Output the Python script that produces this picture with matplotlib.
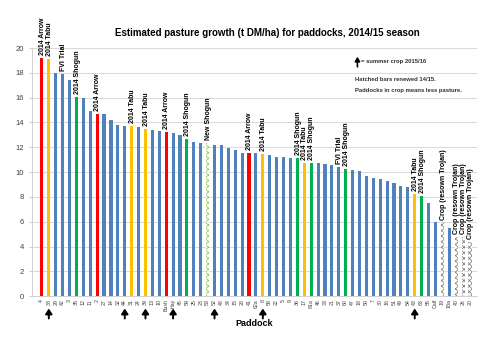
import matplotlib
matplotlib.use("Agg")
import matplotlib.pyplot as plt

plt.rcParams["font.family"] = ["Liberation Sans", "DejaVu Sans"]
plt.rcParams["hatch.linewidth"] = 0.55

paddocks = ["4", "38", "29", "42", "3", "35", "12", "11", "2", "27",
            "14", "32", "44", "31", "24", "39", "13", "10", "Bush", "Hay",
            "45", "59", "25", "23", "53", "52", "48", "34", "15", "28",
            "41", "62a", "8", "58", "22", "5", "9", "36", "17", "61a",
            "46", "33", "21", "37", "60", "47", "18", "50", "7", "30",
            "16", "51", "49", "54", "43", "63", "55", "Calf", "19", "18a",
            "40", "26", "20"]

growth = [19.2, 19.1, 18.0, 17.9, 17.45, 16.05, 16.0, 14.95, 14.7, 14.7,
          14.17, 13.82, 13.71, 13.68, 13.66, 13.47, 13.39, 13.3, 13.25, 13.12,
          12.96, 12.63, 12.39, 12.37, 12.34, 12.2, 12.15, 11.91, 11.8, 11.56,
          11.53, 11.5, 11.45, 11.34, 11.24, 11.21, 11.16, 11.13, 10.75, 10.73,
          10.7, 10.67, 10.56, 10.4, 10.24, 10.13, 10.1, 9.65, 9.52, 9.44,
          9.3, 9.14, 8.87, 8.82, 8.23, 8.09, 7.47, 5.94, 5.86, 5.46,
          4.78, 4.73, 4.38]

# cultivar group per paddock: A=Arrow, T=Tabu, S=Shogun, N=new sown Shogun, C=crop, B=other
group = ("ATBBBSBBAB"
         "BBBTBTBBAB"
         "BSBBNBBBBB"
         "ABTBBBBSTS"
         "BBBBSBBBBB"
         "BBBBTSBBCB"
         "CCC")

bar_notes = {0: "2014 Arrow", 1: "2014 Tabu", 3: "FVI Trial", 5: "2014 Shogun",
             8: "2014 Arrow", 13: "2014 Tabu", 15: "2014 Tabu", 18: "2014 Arrow",
             21: "2014 Shogun", 24: "New Shogun", 30: "2014 Arrow", 32: "2014 Tabu",
             37: "2014 Shogun", 38: "2014 Tabu", 39: "2014 Shogun", 43: "FVI Trial",
             44: "2014 Shogun", 54: "2014 Tabu", 55: "2014 Shogun",
             58: "Crop (resown Trojan)", 60: "Crop (resown Trojan)",
             61: "Crop (resown Trojan)", 62: "Crop (resown Trojan)"}

summer_crop = ["38", "44", "39", "Hay", "52", "8", "43"]

COLORS = {"A": "#ff0000", "T": "#ffc000", "S": "#00b050", "B": "#4f81bd"}


def main():
    fig = plt.figure(figsize=(4.93, 3.48), dpi=100)
    ax = fig.add_axes([0.064, 0.149, 0.904, 0.713])
    x = list(range(len(paddocks)))

    for i, (val, g) in enumerate(zip(growth, group)):
        if g == "N":
            ax.bar(i, val, width=0.45, color="white", edgecolor="#8cc850",
                   hatch="xxxxxx", linewidth=0, zorder=3)
        elif g == "C":
            ax.bar(i, val, width=0.45, color="white", edgecolor="#7f7f7f",
                   hatch="xxxxxx", linewidth=0, zorder=3)
        else:
            ax.bar(i, val, width=0.45, color=COLORS[g], linewidth=0, zorder=3)

    for i, note in bar_notes.items():
        ax.text(i + 0.1, growth[i] + 0.25, note, rotation=90, ha="center",
                va="bottom", fontsize=5, fontweight="bold", clip_on=False)

    ax.set_xlim(-1.5, 63.05)
    ax.set_ylim(0, 20)
    ax.set_yticks(range(0, 21, 2))
    ax.set_xticks(x)
    ax.set_xticklabels(paddocks, rotation=90, fontsize=3.8, color="#404040")
    ax.tick_params(axis="x", length=0, pad=2)
    ax.tick_params(axis="y", length=2.5, color="#d0d0d0", labelsize=5.5,
                   labelcolor="#404040", pad=3)
    ax.grid(axis="y", color="#d9d9d9", linewidth=0.7, zorder=0)
    for side in ["top", "right"]:
        ax.spines[side].set_visible(False)
    ax.spines["left"].set_color("#d0d0d0")
    ax.spines["bottom"].set_color("#d0d0d0")
    ax.spines["left"].set_linewidth(0.7)
    ax.spines["bottom"].set_linewidth(0.7)

    # arrows below paddocks going into summer crop
    for p in summer_crop:
        i = paddocks.index(p)
        ax.annotate("", xy=(i, -0.05), xytext=(i, -0.09),
                    xycoords=("data", "axes fraction"),
                    textcoords=("data", "axes fraction"),
                    arrowprops=dict(arrowstyle="-|>,head_width=0.2,head_length=0.3",
                                    color="black", lw=1.4, shrinkA=0, shrinkB=0),
                    annotation_clip=False)

    ax.set_xlabel("Paddock", fontsize=6.5, fontweight="bold", labelpad=6)

    fig.text(0.543, 0.905, "Estimated pasture growth (t DM/ha) for paddocks, 2014/15 season",
             ha="center", va="center", fontsize=7, fontweight="bold")

    ax.annotate("", xy=(0.725, 0.837), xytext=(0.725, 0.808),
                xycoords="figure fraction", textcoords="figure fraction",
                arrowprops=dict(arrowstyle="-|>,head_width=0.15,head_length=0.25",
                                color="black", lw=1.2, shrinkA=0, shrinkB=0))
    fig.text(0.733, 0.822, "= summer crop 2015/16", fontsize=4.2,
             fontweight="bold", va="center", color="#303030")
    fig.text(0.72, 0.771, "Hatched bars renewed 14/15.", fontsize=4.2,
             fontweight="bold", va="center", color="#303030")
    fig.text(0.72, 0.741, "Paddocks in crop means less pasture.", fontsize=4.2,
             fontweight="bold", va="center", color="#303030")

    fig.savefig("out.png", dpi=100)


if __name__ == "__main__":
    main()
